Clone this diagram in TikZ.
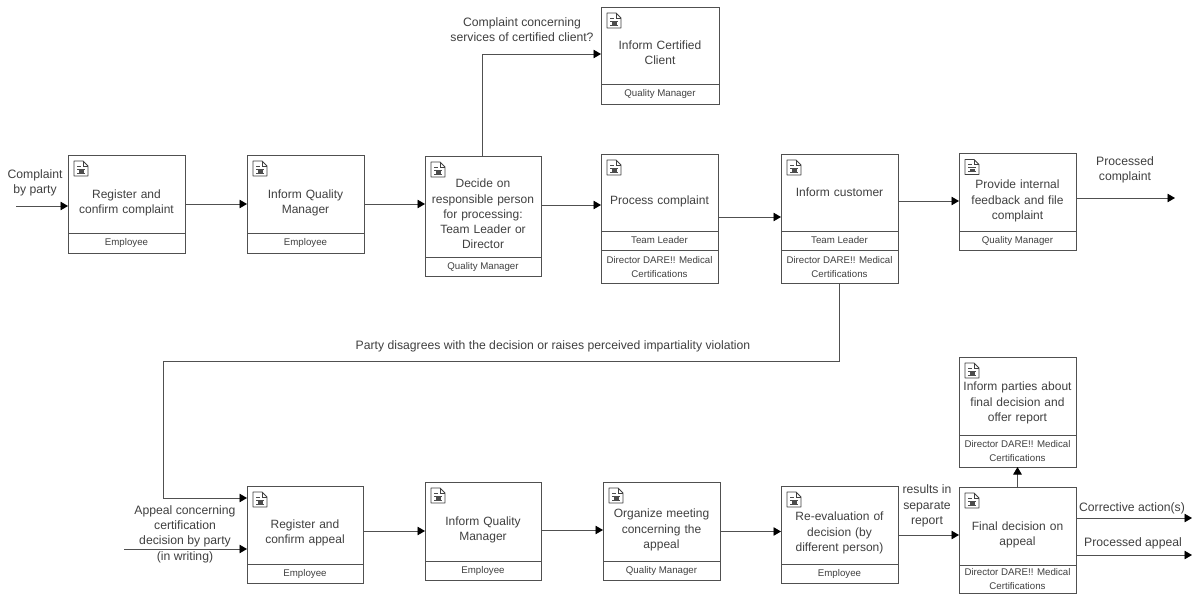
\documentclass[tikz,border=0pt]{standalone}
\usepackage{fontspec}
\setmainfont{Liberation Sans}
\usetikzlibrary{arrows.meta,calc}
\definecolor{ink}{HTML}{404040}
\definecolor{edge}{HTML}{505050}
\tikzset{
  x=1pt,y=-1pt,
  actbox/.style={draw=edge,line width=.9pt,rectangle,inner sep=0pt,outer sep=0pt,fill=white},
  divider/.style={draw=edge,line width=.8pt},
  titletext/.style={text=ink,align=center,inner sep=0pt,font=\fontsize{12}{15.2}\selectfont},
  roletext/.style={text=ink,align=center,inner sep=0pt,font=\fontsize{9.7}{13.8}\selectfont},
  lab/.style={text=ink,align=center,inner sep=0pt,font=\fontsize{12.2}{15.4}\selectfont},
  flow/.style={draw=edge,line width=.9pt,-{Triangle[length=7.5pt,width=8.5pt,color=black]}},
  docicon/.pic={
    \draw[line width=.8pt,draw=black!75,line join=round] (0,0) -- (9,0) -- (14,5) -- (14,15) -- (0,15) -- cycle;
    \draw[line width=.6pt,draw=black!75] (9,0) -- (9,5) -- (14,5);
    \draw[line width=.6pt,draw=black!70] (3,5) -- (7,5) (3,8) -- (11,8) (3,12) -- (11,12);
    \fill[black!70] (5,9) rectangle (10,12);
  }
}
% name, x1, x2, y1, div, y2, title centre y, title, role
\newcommand{\actbox}[9]{%
  \node[actbox,minimum width=#3pt-#2pt,minimum height=#6pt-#4pt] (#1) at ({(#2+#3)/2},{(#4+#6)/2}) {};
  \draw[divider] (#1.west |- 0,#5) -- (#1.east |- 0,#5);
  \pic at (#2+6,#4+6) {docicon};
  \node[titletext,text width=#3pt-#2pt-4pt] (#1t) at ({(#2+#3)/2},#7) {#8};
  \node[roletext] (#1r) at ({(#2+#3)/2},{(#5+#6)/2}) {#9};
}
\newcommand{\hflow}[3]{\draw[flow] (#1.east |- 0,#3) -- (#2.west |- 0,#3);}
\begin{document}
\begin{tikzpicture}
\path[use as bounding box,fill=white] (0,0) rectangle (1192,594);
% top rows
\actbox{rc}{68}{185}{155}{233.5}{253}{203}{Register and\\confirm complaint}{Employee}
\actbox{iq}{247}{364}{155}{233.5}{253}{203}{Inform Quality\\Manager}{Employee}
\actbox{de}{425}{541}{156}{257}{276}{214}{Decide on\\responsible person\\for processing:\\Team Leader or\\Director}{Quality Manager}
\actbox{cc}{601}{719}{7}{84}{104}{53}{Inform Certified\\Client}{Quality Manager}
\actbox{pc}{601}{718}{154}{231}{250}{201}{Process complaint}{Team Leader}
\node[actbox,minimum width=117pt,minimum height=33.5pt,align=center,font=\fontsize{9.7}{13.8}\selectfont,text=ink] (pcd) at (659.5,266.75) {Director DARE!! Medical\\Certifications};
\actbox{ic}{781}{898}{154}{231}{250}{192}{Inform customer}{Team Leader}
\node[actbox,minimum width=117pt,minimum height=33.5pt,align=center,font=\fontsize{9.7}{13.8}\selectfont,text=ink] (icd) at (839.5,266.75) {Director DARE!! Medical\\Certifications};
\actbox{pf}{959}{1076}{153.5}{231}{250.5}{201}{Provide internal\\feedback and file\\complaint}{Quality Manager}
% bottom rows
\actbox{ra}{247}{363}{486}{564}{583}{533}{Register and\\confirm appeal}{Employee}
\actbox{iqb}{425}{541}{482}{561}{580}{530}{Inform Quality\\Manager}{Employee}
\actbox{om}{603}{720}{482}{561}{580}{530}{Organize meeting\\concerning the\\appeal}{Quality Manager}
\actbox{re}{781}{898}{486}{564}{583}{533}{Re-evaluation of\\decision (by\\different person)}{Employee}
\actbox{fd}{959}{1076}{487}{565}{593.5}{534.5}{Final decision on\\appeal}{Director DARE!! Medical\\Certifications}
\actbox{ip}{959}{1076}{357}{435}{467}{403}{Inform parties about\\final decision and\\offer report}{Director DARE!! Medical\\Certifications}
% free ends
\coordinate (in1) at (16,206);
\coordinate (out1) at (1175,198);
\coordinate (in2) at (124,549);
\coordinate (out2) at (1192,518);
\coordinate (out3) at (1192,555);
% connectors
\draw[flow] (in1) -- (rc.west |- in1);
\hflow{rc}{iq}{204}
\hflow{iq}{de}{204}
\hflow{de}{pc}{205}
\hflow{pc}{ic}{217}
\hflow{ic}{pf}{201}
\draw[flow] (pf.east |- out1) -- (out1);
\draw[flow] (482,0 |- de.north) -- (482,54) -- (cc.west |- 0,54);
\draw[flow] (icd.south) -- (icd.south |- 0,361) -- (163,361) -- (163,498) -- (ra.west |- 0,498);
\draw[flow] (in2) -- (ra.west |- in2);
\hflow{ra}{iqb}{531}
\hflow{iqb}{om}{530}
\hflow{om}{re}{531.5}
\hflow{re}{fd}{535}
\draw[flow] (fd.north) -- (ip.south);
\draw[flow] (fd.east |- out2) -- (out2);
\draw[flow] (fd.east |- out3) -- (out3);
% labels
\node[lab] (l1) at (35,183) {Complaint\\by party};
\node[lab] (l2) at (522,29.5) {Complaint concerning\\services of certified client?};
\node[lab] (l3) at (1125,170) {Processed\\complaint};
\node[lab] (l4) at (553,346.5) {Party disagrees with the decision or raises perceived impartiality violation};
\node[lab] (l5) at (185,534) {Appeal concerning\\certification\\decision by party\\(in writing)};
\node[lab] (l6) at (927,506) {results in\\separate\\report};
\node[lab] (l7) at (1132,508) {Corrective action(s)};
\node[lab] (l8) at (1133,543) {Processed appeal};
\end{tikzpicture}
\end{document}
